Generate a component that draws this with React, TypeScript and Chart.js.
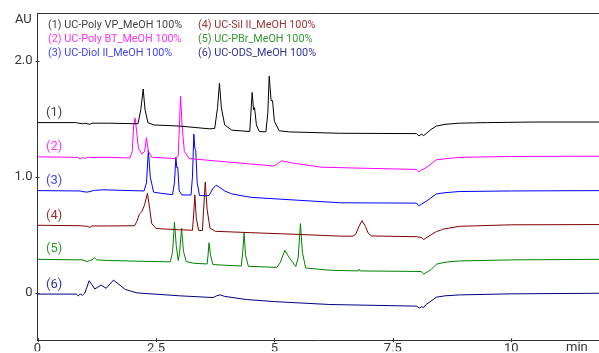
import { useEffect, useRef } from "react";
import { Chart, registerables } from "chart.js";

Chart.register(...registerables);

type Pt = [number, number];

const X_TICKS = [0, 2.5, 5, 7.5, 10];
const Y_TICKS = [0, 1, 2];
const X_MIN = 0;
const X_MAX = 11.85;
const Y_MIN = -0.408;
const Y_MAX = 2.416;

const SERIES_NAMES = [
  "(1) UC-Poly VP_MeOH 100%",
  "(2) UC-Poly BT_MeOH 100%",
  "(3) UC-Diol II_MeOH 100%",
  "(4) UC-Sil II_MeOH 100%",
  "(5) UC-PBr_MeOH 100%",
  "(6) UC-ODS_MeOH 100%",
];
const SERIES_TAGS = ["(1)", "(2)", "(3)", "(4)", "(5)", "(6)"];
const TAG_Y = [1.558, 1.258, 0.966, 0.668, 0.382, 0.067];
const LINE_COLORS = ["#000000", "#ff00ff", "#0000ff", "#800000", "#008000", "#000080"];
const TEXT_COLORS = ["#444444", "#ff33ff", "#4444ff", "#993333", "#339933", "#333399"];

const trace1: Pt[] = [
  [0, 1.47], [0.8, 1.47], [0.95, 1.46], [1.0, 1.465], [1.1, 1.455], [1.15, 1.465], [1.5, 1.465],
  [2.12, 1.46], [2.18, 1.58], [2.23, 1.76], [2.27, 1.58], [2.33, 1.47], [2.45, 1.45], [3.0, 1.44],
  [3.64, 1.416], [3.74, 1.42], [3.8, 1.6], [3.84, 1.81], [3.88, 1.6], [3.95, 1.45], [4.1, 1.405],
  [4.48, 1.393], [4.53, 1.73], [4.56, 1.58], [4.58, 1.6], [4.62, 1.45], [4.68, 1.393], [4.82, 1.39],
  [4.86, 1.55], [4.89, 1.87], [4.93, 1.66], [4.96, 1.66], [5.0, 1.48], [5.1, 1.4], [5.3, 1.39],
  [6.38, 1.378], [8.0, 1.375], [8.05, 1.355], [8.1, 1.37], [8.15, 1.358], [8.2, 1.375], [8.3, 1.41],
  [8.42, 1.44], [8.6, 1.455], [8.9, 1.465], [9.5, 1.47], [10.5, 1.475], [11.85, 1.475],
];

const trace2: Pt[] = [
  [0, 1.175], [0.85, 1.17], [0.9, 1.155], [0.95, 1.17], [1.0, 1.16], [1.05, 1.17], [1.5, 1.17],
  [1.95, 1.165], [2.0, 1.22], [2.03, 1.45], [2.06, 1.51], [2.09, 1.4], [2.13, 1.25], [2.2, 1.2],
  [2.26, 1.22], [2.3, 1.34], [2.34, 1.22], [2.42, 1.17], [2.9, 1.16], [2.97, 1.18], [3.0, 1.5],
  [3.02, 1.7], [3.05, 1.45], [3.1, 1.22], [3.2, 1.16], [3.6, 1.145], [4.3, 1.12], [4.98, 1.095],
  [5.05, 1.11], [5.15, 1.14], [5.4, 1.12], [6.0, 1.085], [7.0, 1.075], [8.0, 1.066], [8.05, 1.045],
  [8.1, 1.06], [8.2, 1.08], [8.42, 1.15], [8.9, 1.17], [10.0, 1.178], [11.85, 1.18],
];

const trace3: Pt[] = [
  [0, 0.883], [0.9, 0.88], [0.96, 0.874], [1.05, 0.87], [1.2, 0.885], [1.4, 0.89], [1.8, 0.885],
  [2.25, 0.88], [2.3, 0.95], [2.34, 1.23], [2.38, 1.0], [2.45, 0.87], [2.6, 0.86], [2.85, 0.848],
  [2.89, 0.95], [2.92, 1.17], [2.94, 1.08], [2.96, 1.085], [2.99, 0.88], [3.05, 0.846], [3.24, 0.845],
  [3.27, 1.0], [3.3, 1.37], [3.32, 1.25], [3.34, 1.23], [3.37, 0.95], [3.42, 0.84], [3.62, 0.84],
  [3.7, 0.9], [3.77, 0.93], [3.85, 0.91], [3.95, 0.88], [4.1, 0.855], [4.5, 0.825], [5.5, 0.8],
  [6.4, 0.778], [8.0, 0.775], [8.04, 0.752], [8.1, 0.765], [8.2, 0.79], [8.42, 0.855], [8.6, 0.865],
  [8.9, 0.875], [10.0, 0.88], [11.85, 0.883],
];

const trace4: Pt[] = [
  [0, 0.584], [0.9, 0.58], [1.05, 0.575], [1.1, 0.565], [1.15, 0.578], [1.5, 0.578], [2.05, 0.58],
  [2.1, 0.62], [2.15, 0.68], [2.2, 0.7], [2.26, 0.76], [2.32, 0.86], [2.36, 0.75], [2.41, 0.6],
  [2.5, 0.556], [3.0, 0.545], [3.27, 0.541], [3.3, 0.7], [3.32, 0.846], [3.35, 0.65], [3.4, 0.54],
  [3.48, 0.538], [3.51, 0.75], [3.54, 0.957], [3.58, 0.72], [3.64, 0.56], [3.75, 0.532], [4.5, 0.52],
  [5.5, 0.505], [6.4, 0.49], [6.66, 0.49], [6.72, 0.51], [6.78, 0.57], [6.85, 0.624], [6.92, 0.575],
  [6.98, 0.515], [7.05, 0.492], [8.0, 0.485], [8.1, 0.478], [8.15, 0.46], [8.2, 0.475], [8.42, 0.53],
  [8.5, 0.54], [8.55, 0.55], [8.7, 0.56], [8.91, 0.575], [10.0, 0.588], [11.85, 0.59],
];

const trace5: Pt[] = [
  [0, 0.29], [0.95, 0.285], [1.05, 0.27], [1.1, 0.28], [1.15, 0.285], [1.2, 0.305], [1.25, 0.285],
  [1.5, 0.28], [2.0, 0.275], [2.8, 0.268], [2.85, 0.35], [2.89, 0.61], [2.93, 0.4], [2.97, 0.28],
  [3.0, 0.35], [3.04, 0.56], [3.08, 0.36], [3.14, 0.27], [3.3, 0.256], [3.58, 0.25], [3.6, 0.33],
  [3.62, 0.433], [3.65, 0.33], [3.7, 0.245], [4.0, 0.238], [4.3, 0.233], [4.33, 0.35], [4.36, 0.52],
  [4.39, 0.33], [4.45, 0.23], [5.05, 0.22], [5.12, 0.26], [5.22, 0.367], [5.32, 0.3], [5.45, 0.228],
  [5.5, 0.3], [5.55, 0.598], [5.59, 0.35], [5.66, 0.215], [6.2, 0.195], [6.77, 0.19], [6.79, 0.205],
  [6.81, 0.19], [8.1, 0.185], [8.15, 0.162], [8.2, 0.175], [8.3, 0.2], [8.42, 0.248], [8.6, 0.265],
  [8.91, 0.276], [10.0, 0.285], [11.85, 0.29],
];

const trace6: Pt[] = [
  [0, -0.01], [0.82, -0.01], [0.86, -0.025], [0.9, -0.01], [0.95, -0.02], [1.0, 0.0], [1.09, 0.105],
  [1.15, 0.07], [1.21, 0.034], [1.34, 0.068], [1.45, 0.04], [1.6, 0.11], [1.7, 0.08], [1.85, 0.03],
  [2.1, 0.0], [2.65, -0.015], [3.0, -0.025], [3.71, -0.04], [3.78, -0.025], [3.86, -0.017],
  [3.95, -0.03], [4.41, -0.057], [5.0, -0.075], [6.17, -0.1], [8.0, -0.114], [8.06, -0.13],
  [8.1, -0.12], [8.15, -0.125], [8.2, -0.1], [8.42, -0.037], [8.6, -0.025], [8.91, -0.017],
  [10.0, -0.008], [11.85, -0.003],
];

const TRACES = [trace1, trace2, trace3, trace4, trace5, trace6];

const FONT = "Roboto, 'Noto Sans', sans-serif";

const overlay = {
  id: "overlay",
  afterDraw(chart: any) {
    const { ctx, chartArea, scales } = chart;
    const xs = scales.x;
    const ys = scales.y;
    ctx.save();
    ctx.strokeStyle = "#333333";
    ctx.lineWidth = 1;
    ctx.beginPath();
    ctx.moveTo(chartArea.left, Math.round(chartArea.top) + 0.5);
    ctx.lineTo(chartArea.right, Math.round(chartArea.top) + 0.5);
    ctx.stroke();
    ctx.beginPath();
    X_TICKS.forEach((t) => {
      const px = Math.round(xs.getPixelForValue(t)) + 0.5;
      ctx.moveTo(px, chartArea.bottom - 2);
      ctx.lineTo(px, chartArea.bottom + 2);
    });
    Y_TICKS.forEach((v) => {
      const py = Math.round(ys.getPixelForValue(v)) + 0.5;
      ctx.moveTo(chartArea.left - 2, py);
      ctx.lineTo(chartArea.left + 2, py);
    });
    ctx.stroke();
    ctx.font = `13px ${FONT}`;
    ctx.textBaseline = "middle";
    ctx.textAlign = "left";
    SERIES_TAGS.forEach((tag, i) => {
      ctx.fillStyle = TEXT_COLORS[i];
      ctx.fillText(tag, xs.getPixelForValue(0.18), ys.getPixelForValue(TAG_Y[i]));
    });
    ctx.font = `10.8px ${FONT}`;
    SERIES_NAMES.forEach((name, i) => {
      const col = Math.floor(i / 3);
      const row = i % 3;
      ctx.fillStyle = TEXT_COLORS[i];
      ctx.fillText(name, col === 0 ? 48 : 198, 25 + row * 14.3);
    });
    ctx.fillStyle = "#333333";
    ctx.font = `13px ${FONT}`;
    ctx.fillText("AU", 15, 20);
    ctx.textBaseline = "top";
    ctx.fillText("min", 566, chartArea.bottom + 1);
    ctx.restore();
  },
};

export default function App() {
  const ref = useRef<HTMLCanvasElement | null>(null);

  useEffect(() => {
    document.body.style.margin = "0";
    const canvas = ref.current;
    if (!canvas) return;
    const chart = new Chart(canvas, {
      type: "line",
      data: {
        datasets: TRACES.map((tr, i) => ({
          label: SERIES_NAMES[i],
          data: tr.map(([x, y]) => ({ x, y })),
          borderColor: LINE_COLORS[i],
          backgroundColor: LINE_COLORS[i],
          borderWidth: 1,
          pointRadius: 0,
          tension: 0,
          fill: false,
        })),
      },
      options: {
        animation: false,
        responsive: false,
        maintainAspectRatio: false,
        events: [],
        layout: { padding: { top: 13, right: 0, left: 0, bottom: 0 } },
        plugins: { legend: { display: false }, tooltip: { enabled: false } },
        scales: {
          x: {
            type: "linear",
            min: X_MIN,
            max: X_MAX,
            grid: { display: false, drawTicks: false },
            border: { display: true, color: "#333333", width: 1 },
            afterFit: (s: any) => {
              s.height = 11;
            },
            afterBuildTicks: (s: any) => {
              s.ticks = X_TICKS.map((v) => ({ value: v }));
            },
            ticks: {
              padding: 1,
              color: "#333333",
              font: { family: FONT, size: 13 },
              maxRotation: 0,
              autoSkip: false,
              callback: (v: any) => String(v),
            },
          },
          y: {
            type: "linear",
            min: Y_MIN,
            max: Y_MAX,
            grid: { display: false, drawTicks: false },
            border: { display: true, color: "#333333", width: 1 },
            afterFit: (s: any) => {
              s.width = 37.5;
            },
            afterBuildTicks: (s: any) => {
              s.ticks = Y_TICKS.map((v) => ({ value: v }));
            },
            ticks: {
              padding: 5,
              color: "#333333",
              font: { family: FONT, size: 13 },
              callback: (v: any) => (v === 0 ? "0" : Number(v).toFixed(1)),
            },
          },
        },
      },
      plugins: [overlay],
    });
    return () => chart.destroy();
  }, []);

  return (
    <div style={{ position: "fixed", left: 0, top: 0, width: 599, height: 353 }}>
      <canvas ref={ref} width={599} height={353} style={{ width: 599, height: 353 }} />
    </div>
  );
}
